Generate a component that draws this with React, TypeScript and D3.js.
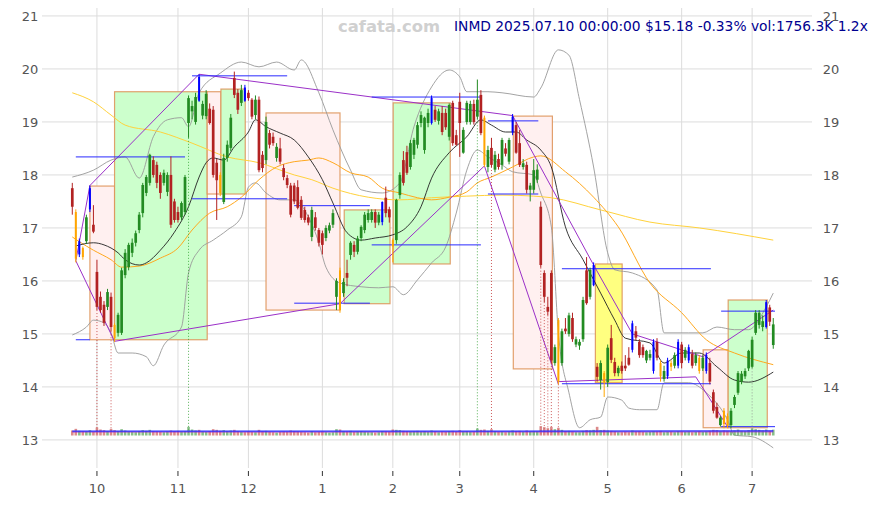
import React, { useEffect, useRef } from 'react';
import * as d3 from 'd3';

// open, high, low, close (one row per trading day, 2024-09-20 .. 2025-07-10)
type Candle = [number, number, number, number];

const candles: Candle[] = [
  [17.75, 17.85, 17.25, 17.40], [17.30, 17.35, 16.35, 16.42], [16.50, 16.80, 16.45, 16.75], [16.62, 16.65, 16.40, 16.45],
  [16.75, 17.25, 16.70, 17.20], [17.35, 17.80, 17.30, 17.75], [17.06, 17.43, 16.90, 16.93], [16.17, 16.40, 15.45, 15.51],
  [15.70, 15.80, 15.40, 15.45], [15.55, 15.62, 15.15, 15.21], [15.51, 15.85, 15.45, 15.79], [15.70, 15.78, 15.05, 15.13],
  [15.17, 15.20, 14.85, 14.92], [15.02, 15.40, 14.95, 15.36], [15.02, 16.25, 14.98, 16.20], [16.11, 16.60, 16.05, 16.53],
  [16.26, 16.72, 16.20, 16.68], [16.53, 16.80, 16.45, 16.72], [16.72, 16.95, 16.65, 16.90], [16.96, 17.30, 16.90, 17.25],
  [17.28, 17.85, 17.20, 17.81], [17.66, 18.00, 17.60, 17.96], [17.85, 18.40, 17.80, 18.38], [18.28, 18.35, 17.95, 18.00],
  [18.19, 18.25, 17.75, 17.85], [18.00, 18.05, 17.55, 17.66], [17.85, 18.10, 17.80, 18.04], [17.68, 18.05, 17.60, 18.00],
  [18.00, 18.35, 17.00, 17.06], [17.50, 17.55, 17.10, 17.15], [17.30, 17.40, 17.10, 17.15], [17.20, 17.50, 17.15, 17.47],
  [17.30, 18.00, 17.25, 17.96], [18.98, 19.50, 18.70, 19.45], [19.20, 19.40, 19.05, 19.30], [19.00, 19.55, 18.95, 19.47],
  [19.85, 19.90, 19.38, 19.40], [19.12, 19.40, 19.05, 19.34], [19.11, 19.60, 19.05, 19.53], [19.25, 19.35, 18.95, 18.98],
  [19.23, 19.30, 17.95, 18.00], [18.23, 18.30, 17.15, 17.90], [18.00, 18.05, 17.60, 17.66], [17.49, 18.40, 17.45, 18.32],
  [18.32, 18.65, 18.25, 18.57], [18.51, 19.15, 18.45, 19.08], [19.83, 19.95, 19.45, 19.51], [19.55, 19.62, 19.15, 19.23],
  [19.36, 19.70, 19.30, 19.60], [19.65, 19.70, 19.38, 19.40], [19.55, 19.60, 19.40, 19.45], [19.42, 19.45, 19.05, 19.10],
  [19.13, 19.50, 19.05, 19.42], [19.42, 19.48, 18.05, 18.09], [18.38, 18.45, 18.05, 18.13], [18.28, 19.10, 18.20, 19.00],
  [18.79, 18.85, 18.50, 18.57], [18.72, 18.80, 18.55, 18.60], [18.32, 18.60, 18.25, 18.53], [18.50, 18.70, 18.20, 18.25],
  [18.13, 18.20, 17.90, 17.96], [17.94, 18.00, 17.75, 17.81], [17.80, 17.85, 17.20, 17.25], [17.80, 17.85, 17.45, 17.50],
  [17.77, 17.90, 17.35, 17.38], [17.53, 17.60, 17.15, 17.19], [17.34, 17.40, 17.10, 17.15], [17.20, 17.25, 17.05, 17.10],
  [16.83, 17.40, 16.75, 17.34], [17.20, 17.30, 16.95, 17.00], [16.96, 17.00, 16.65, 16.72], [16.90, 16.95, 16.50, 16.68],
  [16.81, 17.05, 16.75, 17.00], [16.95, 17.10, 16.90, 17.05], [17.06, 17.35, 17.00, 17.28], [15.70, 16.05, 15.45, 16.00],
  [16.20, 16.25, 15.40, 15.45], [15.77, 16.05, 15.70, 15.98], [16.15, 16.40, 15.90, 16.06], [16.49, 16.75, 16.40, 16.72],
  [16.68, 16.75, 16.45, 16.55], [16.55, 16.85, 16.50, 16.80], [16.81, 17.05, 16.75, 17.02], [16.96, 17.30, 16.90, 17.25],
  [17.15, 17.35, 17.10, 17.28], [17.15, 17.35, 17.10, 17.30], [17.30, 17.35, 17.00, 17.10], [17.10, 17.30, 17.05, 17.25],
  [17.11, 17.50, 17.05, 17.49], [17.57, 17.78, 17.20, 17.28], [17.35, 17.40, 17.10, 17.20], [16.77, 16.80, 16.35, 16.65],
  [16.77, 17.55, 16.70, 17.53], [17.62, 18.05, 17.55, 18.00], [18.28, 18.45, 17.80, 17.85], [18.43, 18.55, 18.00, 18.04],
  [18.15, 18.66, 18.10, 18.60], [18.38, 18.70, 18.30, 18.66], [18.57, 19.00, 18.50, 18.94], [18.98, 19.20, 18.90, 19.13],
  [18.47, 19.10, 18.40, 19.08], [18.98, 19.25, 18.90, 19.17], [18.98, 19.50, 18.95, 19.45], [19.23, 19.30, 19.00, 19.04],
  [19.02, 19.25, 18.95, 19.20], [19.17, 19.30, 18.75, 18.81], [19.17, 19.25, 18.85, 18.90], [18.72, 19.35, 18.65, 19.32],
  [19.36, 19.40, 18.55, 18.60], [18.75, 18.85, 18.55, 18.57], [19.38, 19.55, 18.34, 18.98], [18.42, 18.90, 18.40, 18.85],
  [19.00, 19.40, 18.95, 19.36], [19.00, 19.40, 18.95, 19.34], [19.34, 19.42, 18.95, 19.00], [19.10, 19.80, 19.05, 19.42],
  [19.51, 19.60, 18.75, 18.79], [19.08, 19.12, 18.15, 18.19], [18.15, 18.55, 18.05, 18.47], [18.51, 18.70, 18.15, 18.19],
  [18.10, 18.45, 18.05, 18.38], [18.30, 18.40, 18.10, 18.15], [18.19, 18.70, 18.10, 18.66], [18.50, 18.60, 18.35, 18.40],
  [18.25, 18.70, 18.20, 18.66], [18.80, 19.15, 18.75, 19.10], [18.94, 19.00, 18.40, 18.42], [18.60, 18.85, 18.15, 18.19],
  [18.15, 18.30, 18.10, 18.22], [18.19, 18.25, 17.65, 17.72], [17.72, 17.85, 17.50, 17.80], [17.72, 18.30, 17.65, 18.09],
  [17.91, 18.20, 17.85, 18.10], [17.40, 17.50, 16.25, 16.30], [16.15, 16.20, 15.60, 15.70], [15.51, 15.70, 15.35, 15.42],
  [16.15, 16.20, 14.45, 14.50], [14.45, 14.80, 14.40, 14.75], [15.26, 15.30, 14.05, 14.10], [14.45, 15.10, 14.40, 15.05],
  [15.10, 15.30, 15.00, 15.05], [15.00, 15.40, 14.95, 15.35], [15.30, 15.40, 14.85, 14.90], [14.80, 14.95, 14.75, 14.90],
  [14.78, 14.90, 14.70, 14.85], [14.90, 15.70, 14.85, 15.64], [16.20, 16.45, 15.55, 15.58], [15.70, 16.25, 15.65, 16.21],
  [15.92, 16.35, 15.90, 16.30], [14.38, 14.45, 14.10, 14.19], [14.13, 14.50, 13.95, 14.45], [14.26, 14.30, 13.81, 14.09],
  [14.09, 14.80, 14.00, 14.74], [14.92, 15.17, 14.45, 14.51], [14.47, 14.55, 14.20, 14.26], [14.26, 14.40, 14.20, 14.36],
  [14.40, 14.48, 14.25, 14.30], [14.40, 14.60, 14.30, 14.35], [14.55, 14.75, 14.40, 14.42], [14.70, 15.25, 14.65, 15.20],
  [15.05, 15.15, 14.88, 14.93], [14.85, 14.90, 14.55, 14.60], [14.75, 14.80, 14.55, 14.60], [14.50, 14.70, 14.45, 14.68],
  [14.55, 14.70, 14.50, 14.62], [14.30, 14.90, 14.25, 14.85], [14.85, 14.92, 14.50, 14.55], [14.45, 14.50, 14.10, 14.20],
  [14.15, 14.40, 14.10, 14.30], [14.20, 14.55, 14.15, 14.50], [14.45, 14.50, 14.30, 14.38], [14.40, 14.65, 14.35, 14.60],
  [14.40, 14.90, 14.35, 14.85], [14.80, 14.85, 14.35, 14.45], [14.55, 14.75, 14.50, 14.70], [14.50, 14.80, 14.45, 14.75],
  [14.62, 14.70, 14.35, 14.40], [14.45, 14.65, 14.40, 14.60], [14.55, 14.60, 14.25, 14.30], [14.35, 14.60, 14.30, 14.55],
  [14.30, 14.65, 14.25, 14.60], [14.45, 14.55, 14.05, 14.10], [13.90, 13.95, 13.50, 13.55], [13.62, 13.70, 13.40, 13.42],
  [13.28, 13.45, 13.25, 13.42], [13.55, 13.60, 13.22, 13.30], [13.45, 13.50, 13.22, 13.28], [13.28, 13.60, 13.22, 13.55],
  [13.66, 13.85, 13.60, 13.81], [13.89, 14.30, 13.85, 14.26], [14.10, 14.30, 14.05, 14.25], [14.20, 14.35, 14.15, 14.30],
  [14.35, 14.70, 14.30, 14.68], [14.38, 14.95, 14.35, 14.89], [15.02, 15.45, 14.98, 15.40], [15.17, 15.45, 15.10, 15.40],
  [15.13, 15.35, 15.05, 15.24], [15.13, 15.64, 15.10, 15.60], [15.50, 15.55, 15.15, 15.23], [14.79, 15.30, 14.72, 15.18],
];

// volume in thousands, same order as candles
const volumes = [
  1500, 2000, 1400, 1300, 1200, 1600, 1100, 2400, 1800, 1600, 1300, 2000, 1600, 1300, 1900, 1500, 1200, 1100, 1000, 1300,
  1600, 1400, 1700, 1300, 1200, 1100, 1000, 1200, 1500, 1300, 1400, 1200, 1300, 2600, 1800, 1500, 1700, 1200, 1100, 1300,
  1900, 1700, 1400, 1600, 1300, 1500, 1700, 1300, 1100, 1000, 1200, 1100, 1000, 1700, 1300, 1400, 1100, 1000, 900, 1100,
  1200, 1100, 1500, 1300, 1200, 1100, 1000, 900, 1300, 1000, 1100, 1200, 1000, 900, 1000, 1900, 1800, 1300, 1200, 1400,
  1100, 1200, 1300, 1100, 1000, 1000, 900, 1000, 1300, 1200, 1100, 1800, 1700, 1600, 1400, 1300, 1200, 1300, 1400, 1200,
  1300, 1100, 1500, 1200, 1000, 1200, 1100, 1300, 1400, 1100, 1600, 1200, 1300, 1100, 1200, 2100, 1700, 1800, 1400, 1900,
  1300, 1100, 1200, 1000, 1200, 1500, 1300, 1400, 1100, 1500, 1200, 1300, 1200, 2800, 2500, 2200, 2600, 1900, 2300, 1700,
  1300, 1400, 1200, 1000, 1000, 1400, 1600, 1500, 1700, 2600, 1600, 1700, 1500, 1400, 1200, 1000, 1000, 1100, 1000, 1500,
  1200, 1300, 1100, 1000, 1100, 1300, 1200, 1400, 1000, 1100, 1200, 1000, 1300, 1200, 1100, 1200, 1000, 1100, 1300, 1100,
  1200, 1400, 1700, 1600, 1300, 1500, 1400, 1300, 1500, 1800, 1400, 1300, 1600, 2100, 1900, 1700, 1500, 1800, 1400, 1756,
];

const blueIdx = [2, 5, 36, 49, 88, 102, 125, 148, 159, 165, 169, 172, 175, 180, 197];
const orangeIdx = [1, 3, 12, 42, 76, 91, 117, 138, 151, 167, 170, 178, 185, 186];

// high-volume markers: [candle, colour]
const spikes: [number, string][] = [
  [7, '#c03030'], [11, '#c03030'], [33, '#2e9e2e'], [115, '#2e9e2e'], [119, '#c03030'],
  [133, '#c03030'], [134, '#c03030'], [135, '#c03030'], [136, '#c03030'], [138, '#c03030'], [193, '#888888'],
];

const monthIdx = [7, 30, 50, 71, 91, 110, 131, 152, 173, 193];
const monthLabels = ['10', '11', '12', '1', '2', '3', '4', '5', '6', '7'];
const priceTicks = [13, 14, 15, 16, 17, 18, 19, 20, 21];

// indicator lines: [candle, price]
const longMa: [number, number][] = [
  [0, 19.55], [6, 19.38], [11, 19.13], [15, 18.94], [25, 18.81], [34, 18.6], [44, 18.34], [53, 18.23], [63, 18.0],
  [68, 17.91], [74, 17.75], [84, 17.58], [93, 17.53], [102, 17.57], [112, 17.6], [122, 17.62], [131, 17.6],
  [136, 17.57], [150, 17.34], [164, 17.11], [178, 17.0], [199, 16.77],
];
const midMa: [number, number][] = [
  [0, 16.83], [2, 16.74], [6, 16.58], [11, 16.4], [14, 16.26], [19, 16.28], [25, 16.43], [30, 16.62], [34, 16.96],
  [39, 17.28], [44, 17.4], [48, 17.58], [53, 17.91], [58, 18.15], [63, 18.25], [67, 18.28], [70, 18.32], [74, 18.23],
  [79, 18.04], [84, 17.96], [88, 17.75], [93, 17.66], [98, 17.57], [102, 17.53], [107, 17.58], [112, 17.68],
  [115, 17.85], [119, 17.96], [125, 18.15], [131, 18.34], [133, 18.36], [140, 18.06], [148, 17.58], [155, 17.02],
  [164, 15.96], [173, 15.4], [180, 14.89], [188, 14.64], [199, 14.42],
];
const shortMa: [number, number][] = [
  [1, 16.66], [6, 16.72], [9, 16.68], [13, 16.53], [15, 16.4], [19, 16.3], [21, 16.34], [25, 16.58], [29, 16.92],
  [33, 17.4], [36, 17.96], [38, 18.23], [40, 18.32], [43, 18.28], [46, 18.53], [50, 18.81], [52, 19.04], [55, 18.91],
  [59, 18.79], [63, 18.66], [67, 18.34], [71, 17.91], [74, 17.47], [78, 16.91], [82, 16.77], [86, 16.81], [91, 16.87],
  [95, 17.02], [99, 17.4], [102, 17.94], [107, 18.42], [112, 18.72], [116, 19.04], [119, 18.94], [123, 18.81],
  [126, 18.81], [129, 18.66], [133, 18.47], [136, 18.15], [140, 17.02], [145, 16.4], [150, 15.77], [154, 15.26],
  [157, 14.92], [164, 14.83], [168, 14.45], [173, 14.64], [178, 14.64], [183, 14.38], [188, 14.13], [192, 14.09],
  [199, 14.28],
];
const upperBand: [number, number][] = [
  [0, 17.96], [6, 18.09], [11, 18.28], [15, 18.34], [19, 17.94], [23, 18.72], [27, 19.04], [31, 19.08], [33, 18.91],
  [36, 19.55], [42, 19.92], [48, 20.13], [53, 20.04], [58, 20.13], [63, 19.98], [65, 20.17], [70, 19.55], [74, 18.85],
  [79, 18.09], [82, 17.72], [88, 17.66], [93, 17.85], [97, 18.91], [102, 19.66], [107, 19.98], [110, 19.85],
  [112, 19.57], [118, 19.57], [122, 19.55], [131, 19.47], [133, 19.64], [138, 20.36], [141, 20.26], [144, 19.42],
  [148, 18.15], [152, 16.53], [154, 16.21], [159, 16.15], [166, 15.83], [168, 15.02], [175, 15.02], [179, 15.02],
  [183, 15.13], [188, 15.08], [192, 15.08], [197, 15.51], [199, 15.77],
];
const lowerBand: [number, number][] = [
  [0, 14.98], [4, 15.13], [6, 15.26], [9, 15.21], [11, 15.02], [13, 14.64], [17, 14.64], [21, 14.57], [23, 14.4],
  [26, 14.79], [31, 15.13], [33, 16.15], [36, 16.58], [40, 16.77], [44, 16.96], [48, 17.21], [50, 17.77], [52, 17.85],
  [55, 17.66], [59, 17.53], [63, 17.53], [67, 17.21], [70, 16.72], [72, 16.26], [76, 15.96], [82, 15.89], [87, 15.87],
  [91, 15.89], [94, 15.74], [98, 16.02], [102, 16.34], [106, 16.64], [109, 17.28], [112, 18.09], [115, 18.47],
  [118, 18.34], [122, 18.19], [125, 18.06], [131, 18.0], [133, 17.66], [136, 17.02], [138, 15.02], [141, 13.89],
  [144, 13.23], [147, 13.38], [150, 13.43], [152, 13.81], [156, 13.75], [158, 13.6], [161, 13.57], [166, 13.57],
  [168, 14.08], [175, 14.08], [180, 13.89], [186, 13.38], [188, 13.09], [193, 13.06], [199, 12.85],
];

// pivot-to-pivot trend lines: [fromIdx, fromPrice, toIdx, toPrice]
const trendLines: [number, number, number, number][] = [
  [1, 16.38, 12, 14.86], [1, 16.38, 5, 17.8], [5, 17.8, 36, 19.9], [36, 19.9, 125, 19.12],
  [12, 14.86, 76, 15.57], [76, 15.57, 117, 18.17], [117, 18.17, 138, 14.05], [125, 19.12, 148, 16.3],
  [148, 16.3, 159, 15.0], [159, 15.0, 179, 14.57], [138, 14.1, 177, 14.19], [177, 14.19, 186, 13.25],
  [179, 14.57, 199, 15.45],
];

// support / resistance segments: [fromIdx, toIdx, price]
const levels: [number, number, number][] = [
  [1, 32, 18.34], [1, 5, 14.89], [34, 61, 19.87], [34, 61, 17.55], [63, 84.5, 17.42], [63, 84.5, 15.58],
  [85, 116, 19.47], [85, 116, 16.68], [118, 132.3, 19.02], [118, 132.3, 17.64], [139, 181.3, 16.23],
  [139, 181.3, 14.06], [184.2, 199.5, 15.43], [184.2, 199.5, 13.25],
];

// trend boxes: [fromIdx, toIdx, top, bottom, kind]
const boxes: [number, number, number, number, string][] = [
  [5, 12, 17.79, 14.89, 'down'], [12, 38.3, 19.57, 14.89, 'up'], [38.3, 42.2, 19.57, 17.64, 'down'],
  [42.2, 49.1, 19.62, 17.64, 'up'], [55, 76, 19.17, 15.45, 'down'], [77.2, 90.2, 17.34, 15.57, 'up'],
  [91.1, 107.3, 19.36, 16.32, 'up'], [125.2, 136.3, 19.11, 14.34, 'down'], [148.5, 156.1, 16.32, 14.08, 'flat'],
  [179.1, 186.2, 14.7, 13.23, 'down'], [186.2, 197.3, 15.64, 13.23, 'up'],
];

const volMaBlue: [number, number][] = [[0, 1320], [60, 1300], [120, 1340], [199, 1360]];
const volMaPurple: [number, number][] = [[0, 1060], [80, 1050], [150, 1080], [199, 1100]];

const W = 878;
const H = 505;

export default function App() {
  const svgRef = useRef<SVGSVGElement>(null);

  useEffect(() => {
    if (!svgRef.current) return;
    const svg = d3.select(svgRef.current);
    svg.selectAll('*').remove();

    const left = 42, right = 812, top = 8, bottom = 468;
    const x = d3.scaleLinear().domain([-8.6, 210]).range([left, right]);
    const y = d3.scaleLinear().domain([12.47, 21.15]).range([bottom, top]);
    const volBase = 435.5;
    const vh = d3.scaleLinear().domain([0, 3000]).range([0, 10]);
    const font = "'DejaVu Sans', sans-serif";

    svg.append('rect').attr('width', W).attr('height', H).attr('fill', '#fff');

    // grid
    const grid = svg.append('g').attr('stroke', '#dcdcdc').attr('stroke-width', 1);
    priceTicks.forEach(p => {
      grid.append('line').attr('x1', left).attr('x2', right).attr('y1', y(p)).attr('y2', y(p));
    });
    monthIdx.forEach(i => {
      grid.append('line').attr('x1', x(i)).attr('x2', x(i)).attr('y1', top).attr('y2', bottom);
    });

    // boxes
    const boxFill: Record<string, string> = { up: '#ccffcc', down: '#fff0f0', flat: '#ffff80' };
    svg.append('g').selectAll('rect').data(boxes).enter().append('rect')
      .attr('x', d => x(d[0]))
      .attr('width', d => x(d[1]) - x(d[0]))
      .attr('y', d => y(d[2]))
      .attr('height', d => y(d[3]) - y(d[2]))
      .attr('fill', d => boxFill[d[4]])
      .attr('stroke', '#dd9055')
      .attr('stroke-opacity', 0.85)
      .attr('stroke-width', 1.2);

    const line = d3.line<[number, number]>()
      .x(d => x(d[0]))
      .y(d => y(d[1]))
      .curve(d3.curveMonotoneX);

    const drawLine = (data: [number, number][], color: string, width: number) => {
      svg.append('path').datum(data).attr('d', line).attr('fill', 'none')
        .attr('stroke', color).attr('stroke-width', width);
    };
    drawLine(upperBand, '#999', 0.9);
    drawLine(lowerBand, '#999', 0.9);
    drawLine(longMa, '#ffd23c', 1);
    drawLine(midMa, '#ffa81e', 1);
    drawLine(shortMa, '#222', 0.9);

    // trend lines
    svg.append('g').selectAll('line').data(trendLines).enter().append('line')
      .attr('x1', d => x(d[0])).attr('y1', d => y(d[1]))
      .attr('x2', d => x(d[2])).attr('y2', d => y(d[3]))
      .attr('stroke', '#9b30c8').attr('stroke-width', 1);

    // support / resistance
    svg.append('g').selectAll('line').data(levels).enter().append('line')
      .attr('x1', d => x(d[0])).attr('x2', d => x(d[1]))
      .attr('y1', d => y(d[2])).attr('y2', d => y(d[2]))
      .attr('stroke', '#2a2aff').attr('stroke-width', 1);

    // high-volume dotted markers
    svg.append('g').selectAll('line').data(spikes).enter().append('line')
      .attr('x1', d => x(d[0])).attr('x2', d => x(d[0]))
      .attr('y1', d => y(candles[d[0]][2])).attr('y2', volBase - 2)
      .attr('stroke', d => d[1]).attr('stroke-width', 0.8)
      .attr('stroke-dasharray', '1,2');

    // candles
    const colorOf = (i: number) => {
      if (blueIdx.includes(i)) return '#0000ff';
      if (orangeIdx.includes(i)) return '#ffa500';
      const c = candles[i];
      return c[3] >= c[0] ? '#228b22' : '#b22222';
    };
    const cg = svg.append('g');
    candles.forEach((c, i) => {
      const col = colorOf(i);
      const special = blueIdx.includes(i) || orangeIdx.includes(i);
      const cx = x(i);
      cg.append('line').attr('x1', cx).attr('x2', cx)
        .attr('y1', y(c[1])).attr('y2', y(c[2]))
        .attr('stroke', col).attr('stroke-width', 1);
      const bw = special ? 2 : 2.7;
      const yt = y(Math.max(c[0], c[3]));
      const yb = y(Math.min(c[0], c[3]));
      cg.append('rect').attr('x', cx - bw / 2).attr('width', bw)
        .attr('y', yt).attr('height', Math.max(1, yb - yt))
        .attr('fill', col);
    });

    // volume strip
    svg.append('g').selectAll('rect').data(volumes).enter().append('rect')
      .attr('x', (_, i) => x(i) - 1.3)
      .attr('width', 2.6)
      .attr('y', v => volBase - vh(v))
      .attr('height', v => vh(v))
      .attr('fill', (_, i) => (candles[i][3] >= candles[i][0] ? '#5fa85f' : '#d06464'))
      .attr('opacity', 0.75);

    const vline = d3.line<[number, number]>().x(d => x(d[0])).y(d => volBase - vh(d[1]));
    svg.append('path').datum(volMaPurple).attr('d', vline).attr('fill', 'none')
      .attr('stroke', '#9b30c8').attr('stroke-width', 1);
    svg.append('path').datum(volMaBlue).attr('d', vline).attr('fill', 'none')
      .attr('stroke', '#2a2aff').attr('stroke-width', 1.2);

    // axes labels
    const lab = svg.append('g').attr('font-family', font).attr('font-size', 13).attr('fill', '#555');
    priceTicks.forEach(p => {
      lab.append('text').attr('x', 30).attr('y', y(p) + 5).attr('text-anchor', 'middle').text(p);
      lab.append('text').attr('x', 831).attr('y', y(p) + 5).attr('text-anchor', 'middle').text(p);
    });
    monthIdx.forEach((i, k) => {
      svg.append('line').attr('x1', x(i)).attr('x2', x(i)).attr('y1', 471).attr('y2', 476)
        .attr('stroke', '#333').attr('stroke-width', 1);
      lab.append('text').attr('x', x(i)).attr('y', 493).attr('text-anchor', 'middle').text(monthLabels[k]);
    });

    // header
    svg.append('text').attr('x', 338).attr('y', 32)
      .attr('font-family', font).attr('font-weight', 'bold').attr('font-size', 16.4)
      .attr('fill', '#d0d0d0').text('cafata.com');
    svg.append('text').attr('x', 454).attr('y', 31)
      .attr('font-family', font).attr('font-size', 13.8)
      .attr('fill', '#000090').text('INMD 2025.07.10 00:00:00 $15.18 -0.33% vol:1756.3K 1.2x');
  }, []);

  return (
    <svg ref={svgRef} width={W} height={H}
      style={{ position: 'absolute', left: 0, top: 0, display: 'block' }} />
  );
}
